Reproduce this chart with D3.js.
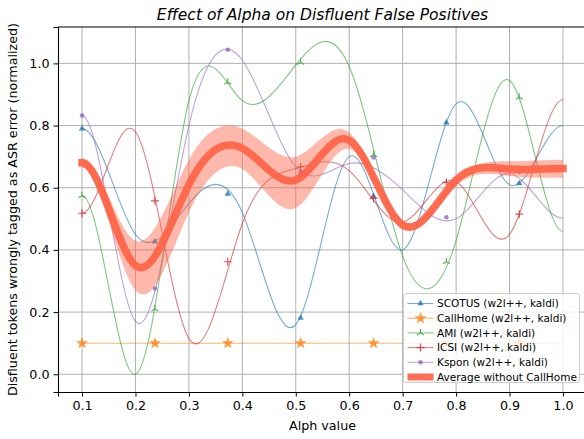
<!DOCTYPE html>
<html>
<head>
<meta charset="utf-8">
<script src="https://cdn.jsdelivr.net/npm/d3@7"></script>
<style>
  body { margin: 0; background: #fff; }
  svg { display: block; font-family: 'DejaVu Sans', sans-serif; }
</style>
</head>
<body>
<svg id="chart" width="584" height="439"></svg>
<script>
/* Data */
const alphas = [0.1, 0.2, 0.3, 0.4, 0.5, 0.6, 0.7, 0.8, 0.9, 1.0]
const scotus = [0.79, 0.45, 0.55, 0.52, 0.16, 0.7, 0.4, 0.87, 0.61, 0.8]
const callhome = [0.1, 0.1, 0.1, 0.1, 0.1, 0.1, 0.1, 0.1, 0.1, 0.1]
const ami = [0.575, 0.0, 0.88, 0.88, 0.995, 0.99, 0.38, 0.43, 0.945, 0.46]
const icsi = [0.518, 0.78, 0.115, 0.485, 0.662, 0.655, 0.49, 0.62, 0.45, 0.883]
const kspon = [0.832, 0.17, 0.8, 1.01, 0.667, 0.678, 0.593, 0.5, 0.645, 0.502]
const average = [0.68, 0.35, 0.61, 0.727, 0.625, 0.753, 0.48, 0.625, 0.66, 0.662]
const bandLow = [0.665, 0.27, 0.52, 0.66, 0.535, 0.725, 0.47, 0.605, 0.638, 0.632]
const bandHigh = [0.695, 0.43, 0.69, 0.79, 0.7, 0.778, 0.495, 0.63, 0.685, 0.69]

/* marker positions along the curves */
const markerAlphas = [0.1, 0.2364, 0.3727, 0.5091, 0.6455, 0.7818, 0.9182]
const scotusMarks = [0.79, 0.427, 0.58, 0.181, 0.573, 0.809, 0.614]
const callhomeMarks = [0.1, 0.1, 0.1, 0.1, 0.1, 0.1, 0.1]
const amiMarks = [0.574, 0.21, 0.939, 1.003, 0.706, 0.362, 0.891]
const icsiMarks = [0.518, 0.558, 0.362, 0.667, 0.566, 0.617, 0.515]
const ksponMarks = [0.832, 0.276, 1.044, 0.651, 0.697, 0.505, 0.651]

const xTicks = [0.1, 0.2, 0.3, 0.4, 0.5, 0.6, 0.7, 0.8, 0.9, 1.0]
const yTicks = [0.0, 0.2, 0.4, 0.6, 0.8, 1.0]

const series = [
  { name: 'SCOTUS (w2l++, kaldi)', values: scotus, marks: scotusMarks, color: '#1f77b4', marker: 'triangle' },
  { name: 'CallHome (w2l++, kaldi)', values: callhome, marks: callhomeMarks, color: '#ff7f0e', marker: 'star' },
  { name: 'AMI (w2l++, kaldi)', values: ami, marks: amiMarks, color: '#2ca02c', marker: 'tri' },
  { name: 'ICSI (w2l++, kaldi)', values: icsi, marks: icsiMarks, color: '#d62728', marker: 'plus' },
  { name: 'Kspon (w2l++, kaldi)', values: kspon, marks: ksponMarks, color: '#9467bd', marker: 'dot' },
]
const avgColor = '#ff6347'

const width = 584
const height = 439
const margin = { top: 27, right: -3, bottom: 47, left: 58 }

/* cubic spline with clamped ends, drawn as bezier segments */
function splineSlopes(x, y) {
  const n = x.length
  const m = new Array(n).fill(0)
  if (n < 3) return m
  const h = [], d = []
  for (let i = 0; i < n - 1; i++) {
    h.push(x[i + 1] - x[i])
    d.push((y[i + 1] - y[i]) / h[i])
  }
  const a = [], b = [], c = [], r = []
  for (let i = 1; i < n - 1; i++) {
    a.push(h[i])
    b.push(2 * (h[i - 1] + h[i]))
    c.push(h[i - 1])
    r.push(3 * (h[i] * d[i - 1] + h[i - 1] * d[i]))
  }
  const k = b.length
  for (let i = 1; i < k; i++) {
    const w = a[i] / b[i - 1]
    b[i] -= w * c[i - 1]
    r[i] -= w * r[i - 1]
  }
  m[k] = r[k - 1] / b[k - 1]
  for (let i = k - 2; i >= 0; i--) m[i + 1] = (r[i] - c[i] * m[i + 2]) / b[i]
  return m
}

function ClampedSpline(context) { this._context = context }
ClampedSpline.prototype = {
  areaStart() { this._line = 0 },
  areaEnd() { this._line = NaN },
  lineStart() { this._x = []; this._y = [] },
  point(x, y) { this._x.push(+x); this._y.push(+y) },
  lineEnd() {
    const x = this._x, y = this._y, n = x.length
    if (n) {
      this._line ? this._context.lineTo(x[0], y[0]) : this._context.moveTo(x[0], y[0])
      const m = splineSlopes(x, y)
      for (let i = 0; i < n - 1; i++) {
        const h = x[i + 1] - x[i]
        this._context.bezierCurveTo(
          x[i] + h / 3, y[i] + (m[i] * h) / 3,
          x[i + 1] - h / 3, y[i + 1] - (m[i + 1] * h) / 3,
          x[i + 1], y[i + 1]
        )
      }
    }
    if (this._line || (this._line !== 0 && n === 1)) this._context.closePath()
    this._line = 1 - this._line
    this._x = this._y = null
  },
}
const curveClamped = (context) => new ClampedSpline(context)

/* marker shapes */
function markerPath(type) {
  if (type === 'triangle') return d3.symbol(d3.symbolTriangle).size(18)()
  if (type === 'star') return d3.symbol(d3.symbolStar).size(46)()
  if (type === 'tri') return 'M0,0L0,-4M0,0L-3.5,2M0,0L3.5,2'
  if (type === 'plus') return 'M-4,0L4,0M0,-4L0,4'
  return d3.symbol(d3.symbolCircle).size(16)()
}
const isStroked = (type) => type === 'tri' || type === 'plus'

const svg = d3.select('#chart')

const xScale = d3
  .scaleLinear()
  .domain([0.055, 1.045])
  .range([margin.left, width - margin.right])

const yScale = d3
  .scaleLinear()
  .domain([-0.057, 1.117])
  .range([height - margin.bottom, margin.top])

const plot = svg.append('g')

svg
  .append('defs')
  .append('clipPath')
  .attr('id', 'clip')
  .append('rect')
  .attr('x', margin.left)
  .attr('y', margin.top)
  .attr('width', width - margin.right - margin.left)
  .attr('height', height - margin.bottom - margin.top)

/* grid */
plot
  .append('g')
  .selectAll('line')
  .data(xTicks)
  .join('line')
  .attr('x1', (d) => xScale(d))
  .attr('x2', (d) => xScale(d))
  .attr('y1', margin.top)
  .attr('y2', height - margin.bottom)
  .attr('stroke', '#b0b0b0')
  .attr('stroke-width', 1)

plot
  .append('g')
  .selectAll('line')
  .data(yTicks)
  .join('line')
  .attr('x1', margin.left)
  .attr('x2', width - margin.right)
  .attr('y1', (d) => yScale(d))
  .attr('y2', (d) => yScale(d))
  .attr('stroke', '#b0b0b0')
  .attr('stroke-width', 1)

const lines = plot.append('g').attr('clip-path', 'url(#clip)')

/* series lines */
const line = d3
  .line()
  .x((d, i) => xScale(alphas[i]))
  .y((d) => yScale(d))
  .curve(curveClamped)

series.forEach((s) => {
  lines
    .append('path')
    .datum(s.values)
    .attr('fill', 'none')
    .attr('stroke', s.color)
    .attr('stroke-opacity', 0.6)
    .attr('stroke-width', 1.1)
    .attr('d', line)

  lines
    .append('g')
    .selectAll('path')
    .data(s.marks)
    .join('path')
    .attr('transform', (d, i) => `translate(${xScale(markerAlphas[i])},${yScale(d)})`)
    .attr('d', markerPath(s.marker))
    .attr('fill', isStroked(s.marker) ? 'none' : s.color)
    .attr('stroke', isStroked(s.marker) ? s.color : 'none')
    .attr('stroke-width', 1.2)
    .attr('opacity', 0.8)
})

/* average band + line */
const band = d3
  .area()
  .x((d, i) => xScale(alphas[i]))
  .y0((d, i) => yScale(bandLow[i]))
  .y1((d, i) => yScale(bandHigh[i]))
  .curve(curveClamped)

lines
  .append('path')
  .datum(average)
  .attr('fill', avgColor)
  .attr('fill-opacity', 0.45)
  .attr('d', band)

lines
  .append('path')
  .datum(average)
  .attr('fill', 'none')
  .attr('stroke', avgColor)
  .attr('stroke-opacity', 0.92)
  .attr('stroke-width', 7.5)
  .attr('stroke-linecap', 'square')
  .attr('d', line)

/* axes */
const xAxis = svg
  .append('g')
  .attr('transform', `translate(0, ${height - margin.bottom})`)
  .call(d3.axisBottom(xScale).tickValues(xTicks).tickFormat(d3.format('.1f')).tickSize(4.5).tickPadding(4))

const yAxis = svg
  .append('g')
  .attr('transform', `translate(${margin.left}, 0)`)
  .call(d3.axisLeft(yScale).tickValues(yTicks).tickFormat(d3.format('.1f')).tickSize(4.5).tickPadding(4))

;[xAxis, yAxis].forEach((g) => {
  g.select('.domain').attr('stroke', '#000').attr('stroke-width', 1.1)
  g.selectAll('.tick line').attr('stroke', '#000').attr('stroke-width', 1)
  g.selectAll('.tick text')
    .attr('fill', '#000')
    .attr('font-size', 12.7)
    .attr('font-family', 'DejaVu Sans')
})

/* top spine */
svg
  .append('line')
  .attr('x1', margin.left)
  .attr('x2', width)
  .attr('y1', margin.top)
  .attr('y2', margin.top)
  .attr('stroke', '#000')
  .attr('stroke-width', 1.1)

/* labels */
svg
  .append('text')
  .attr('x', xScale(0.55))
  .attr('y', 20)
  .attr('text-anchor', 'middle')
  .attr('font-size', 15.5)
  .attr('font-style', 'italic')
  .text('Effect of Alpha on Disfluent False Positives')

svg
  .append('text')
  .attr('x', xScale(0.55))
  .attr('y', 429.5)
  .attr('text-anchor', 'middle')
  .attr('font-size', 12.7)
  .text('Alph value')

svg
  .append('text')
  .attr('transform', `translate(17, ${(margin.top + height - margin.bottom) / 2}) rotate(-90)`)
  .attr('text-anchor', 'middle')
  .attr('font-size', 12.7)
  .text('Disfluent tokens wrongly tagged as ASR error (normalized)')

/* legend */
const legend = svg.append('g').attr('transform', 'translate(403.5, 293.5)')

legend
  .append('rect')
  .attr('width', 176)
  .attr('height', 89)
  .attr('rx', 2.5)
  .attr('fill', '#fff')
  .attr('fill-opacity', 0.8)
  .attr('stroke', '#cccccc')
  .attr('stroke-width', 1)

const rowY = (i) => 10 + i * 14.7

series.forEach((s, i) => {
  const row = legend.append('g').attr('transform', `translate(0, ${rowY(i)})`)
  row
    .append('line')
    .attr('x1', 4)
    .attr('x2', 30)
    .attr('stroke', s.color)
    .attr('stroke-opacity', 0.6)
    .attr('stroke-width', 1.1)
  row
    .append('path')
    .attr('transform', 'translate(17, 0)')
    .attr('d', markerPath(s.marker))
    .attr('fill', isStroked(s.marker) ? 'none' : s.color)
    .attr('stroke', isStroked(s.marker) ? s.color : 'none')
    .attr('stroke-width', 1.2)
    .attr('opacity', 0.8)
  row
    .append('text')
    .attr('x', 33.5)
    .attr('y', 3.8)
    .attr('font-size', 10.5)
    .text(s.name)
})

const avgRow = legend.append('g').attr('transform', `translate(0, ${rowY(5)})`)
avgRow
  .append('line')
  .attr('x1', 4)
  .attr('x2', 30)
  .attr('stroke', avgColor)
  .attr('stroke-opacity', 0.92)
  .attr('stroke-width', 7)
avgRow
  .append('text')
  .attr('x', 33.5)
  .attr('y', 3.8)
  .attr('font-size', 10.5)
  .text('Average without CallHome')
</script>
</body>
</html>
